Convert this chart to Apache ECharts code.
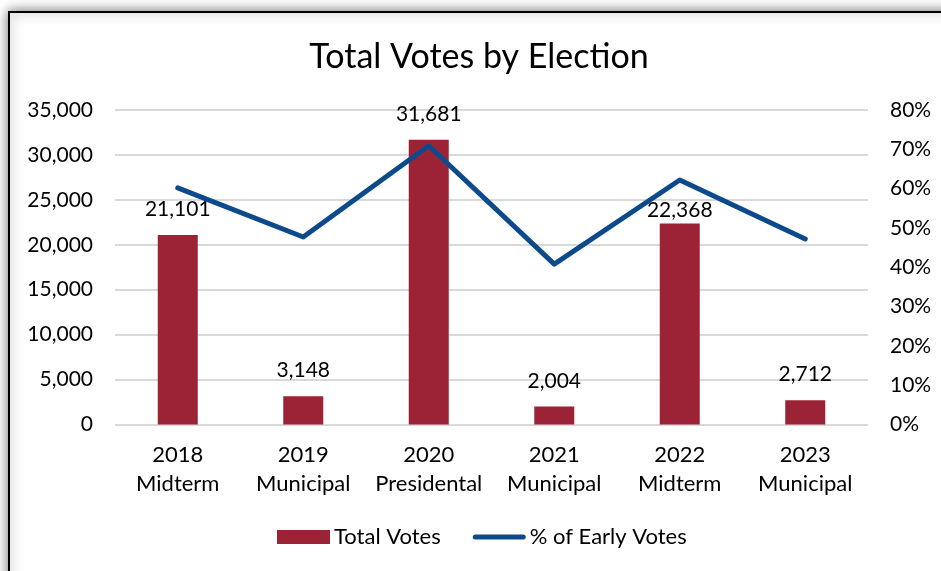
<!DOCTYPE html>
<html><head><meta charset="utf-8">
<script src="https://cdn.jsdelivr.net/npm/echarts@6/dist/echarts.min.js"></script>
<style>html,body{margin:0;padding:0;background:#fff}#c{width:941px;height:571px}</style>
</head><body><div id="c"></div>
<script>
const categories = ['2018\nMidterm','2019\nMunicipal','2020\nPresidental','2021\nMunicipal','2022\nMidterm','2023\nMunicipal'];
const totalVotes = [21101, 3148, 31681, 2004, 22368, 2712];
const earlyPct = [60.2, 47.7, 70.9, 40.8, 62.2, 47.2];
const leftTicks = [0, 35000, 5000];
const rightTicks = [0, 80, 10];
// label gap above each bar (styling, not data)
const labelGap = [15, 15, 15, 15, 3, 15];

const FONT = 'Lato';
const chart = echarts.init(document.getElementById('c'), null, {renderer:'canvas'});
chart.setOption({
  animation: false,
  textStyle: {fontFamily: FONT, color: '#000'},
  graphic: [{
    type: 'rect', z: -10, silent: true,
    shape: {x: 9, y: 12, width: 1000, height: 1000},
    style: {fill: '#fff', stroke: '#000', lineWidth: 2, shadowBlur: 12, shadowColor: 'rgba(0,0,0,0.55)'}
  }],
  title: {
    text: 'Total Votes by Election', left: 474, textAlign: 'center', top: 35,
    textStyle: {fontFamily: FONT, fontSize: 34, fontWeight: 'normal', color: '#000'}
  },
  grid: {left: 115, right: 73, top: 110, bottom: 146.5, containLabel: false},
  legend: {
    bottom: 18, left: 272, itemGap: 32, itemWidth: 53, itemHeight: 14,
    textStyle: {fontFamily: FONT, fontSize: 22, color: '#000', padding: [0, 0, 0, -1]},
    data: [
      {name: 'Total Votes', icon: 'rect'},
      {name: '% of Early Votes', icon: 'path://M2,5 L50,5 A2.5,2.5 0 0 1 50,10 L2,10 A2.5,2.5 0 0 1 2,5 Z'}
    ]
  },
  xAxis: {
    type: 'category', data: categories,
    axisLine: {show: false}, axisTick: {show: false},
    axisLabel: {interval: 0, fontFamily: FONT, fontSize: 22, color: '#000', lineHeight: 29, margin: 16}
  },
  yAxis: [{
    type: 'value', min: leftTicks[0], max: leftTicks[1], interval: leftTicks[2],
    axisLabel: {fontFamily: FONT, fontSize: 21, color: '#000', margin: 22,
      formatter: v => v.toLocaleString('en-US')},
    splitLine: {lineStyle: {color: '#d9d9d9', width: 2}},
    axisLine: {show: false}, axisTick: {show: false}
  }, {
    type: 'value', min: rightTicks[0], max: rightTicks[1], interval: rightTicks[2],
    axisLabel: {fontFamily: FONT, fontSize: 21, color: '#000', margin: 22, formatter: '{value}%'},
    splitLine: {show: false}, axisLine: {show: false}, axisTick: {show: false}
  }],
  series: [{
    name: 'Total Votes', type: 'bar', barWidth: 40,
    data: totalVotes.map((v, i) => ({value: v, label: {distance: labelGap[i]}})),
    itemStyle: {color: '#9b2335'},
    label: {show: true, position: 'top', fontFamily: FONT, fontSize: 21, color: '#000',
      formatter: p => p.value.toLocaleString('en-US')}
  }, {
    name: '% of Early Votes', type: 'line', yAxisIndex: 1, data: earlyPct,
    symbol: 'none', lineStyle: {color: '#0d4a8c', width: 5, cap: 'round', join: 'round'}, itemStyle: {color: '#0d4a8c'}
  }]
});
</script></body></html>
